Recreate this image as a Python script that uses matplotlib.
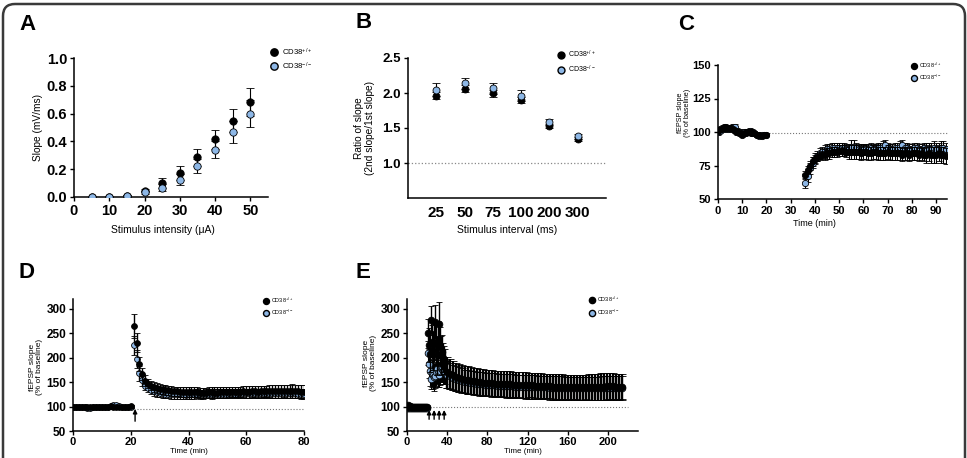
import matplotlib
matplotlib.use('Agg')
import matplotlib.pyplot as plt
from matplotlib.lines import Line2D
from matplotlib.patches import FancyBboxPatch
from matplotlib.transforms import IdentityTransform

plt.rcParams['font.family'] = ['Liberation Sans', 'DejaVu Sans']
plt.rcParams['font.weight'] = 'bold'
plt.rcParams['mathtext.default'] = 'regular'

BLUE = '#8db7e6'
W, H = 967, 458

# ---- A: input/output ----
a_int = [5, 10, 15, 20, 25, 30, 35, 40, 45, 50]
a_wt = [0.0, 0.0, 0.01, 0.045, 0.10, 0.175, 0.285, 0.415, 0.55, 0.685]
a_wt_err = [0.003, 0.004, 0.006, 0.012, 0.035, 0.05, 0.06, 0.07, 0.085, 0.10]
a_ko = [0.0, 0.0, 0.01, 0.035, 0.065, 0.125, 0.225, 0.34, 0.465, 0.60]
a_ko_err = [0.003, 0.004, 0.006, 0.01, 0.025, 0.04, 0.05, 0.06, 0.08, 0.095]

# ---- B: paired-pulse ratio ----
b_intervals = ['25', '50', '75', '100', '200', '300']
b_wt = [1.96, 2.06, 2.00, 1.90, 1.53, 1.34]
b_wt_err = [0.05, 0.05, 0.05, 0.04, 0.03, 0.03]
b_ko = [2.05, 2.14, 2.07, 1.96, 1.59, 1.38]
b_ko_err = [0.09, 0.08, 0.08, 0.08, 0.04, 0.03]

# ---- C: LTD ----
c_t_base = list(range(0, 21))
c_t_post = list(range(36, 95))
c_wt_base = [101, 102, 103, 104, 103, 103, 102, 101, 100, 99, 98, 99, 100, 100, 99,
             99, 98, 98, 97, 98, 98]
c_ko_base = [100, 101, 102, 103, 102, 103, 104, 104, 101, 100, 99, 100, 100, 101, 100,
             99, 98, 97, 98, 98, 98]
c_base_err = [2, 2, 2, 2, 2, 2, 2, 2, 2, 2, 2, 2, 2, 2, 2, 2, 2, 1, 1, 1, 1]
c_wt_post = [68, 72, 75, 78, 80, 81, 82, 83, 83, 84,
             84, 85, 85, 85, 86, 86, 86, 85, 85, 85,
             85, 85, 85, 84, 85, 85, 84, 84, 85, 85,
             84, 84, 84, 84, 85, 84, 84, 84, 84, 84,
             83, 84, 84, 83, 84, 84, 84, 83, 84, 83,
             83, 84, 83, 83, 83, 84, 83, 83, 82]
c_ko_post = [62, 67, 73, 77, 80, 82, 84, 85, 86, 87,
             87, 88, 88, 88, 88, 88, 88, 87, 87, 89,
             89, 88, 87, 87, 87, 87, 87, 88, 87, 87,
             88, 88, 89, 90, 88, 87, 87, 88, 88, 89,
             90, 88, 88, 87, 87, 88, 88, 87, 87, 88,
             87, 87, 87, 88, 87, 87, 88, 88, 87]
c_wt_post_err = [3, 3, 3, 3, 3, 3, 3, 3, 4, 4,
                 4, 4, 4, 4, 4, 4, 4, 4, 5, 5,
                 5, 5, 5, 5, 5, 5, 5, 5, 5, 5,
                 5, 5, 5, 5, 5, 5, 5, 5, 5, 5,
                 5, 5, 5, 5, 5, 5, 5, 5, 5, 5,
                 6, 6, 6, 6, 6, 6, 6, 6, 6]
c_ko_post_err = [4, 4, 4, 4, 4, 4, 4, 4, 4, 4,
                 4, 4, 4, 4, 4, 4, 4, 4, 4, 5,
                 5, 4, 4, 4, 4, 4, 4, 4, 4, 4,
                 4, 4, 4, 4, 4, 4, 4, 4, 4, 4,
                 4, 4, 4, 4, 4, 4, 4, 4, 4, 4,
                 5, 5, 5, 5, 5, 5, 5, 5, 5]

# ---- D: LTP (single train) ----
d_t_base = list(range(0, 21))
d_t_post = list(range(21, 81))
d_wt_base = [100, 100, 100, 99, 100, 100, 99, 100, 100, 100, 100, 100, 100, 101, 100,
             100, 100, 100, 100, 100, 101]
d_ko_base = [100, 99, 100, 99, 100, 98, 97, 99, 100, 100, 99, 100, 100, 101, 103,
             104, 101, 100, 100, 100, 100]
d_base_err = [3, 3, 3, 3, 3, 3, 3, 3, 3, 3, 3, 3, 3, 3, 3, 3, 3, 3, 3, 3, 3]
d_wt_post = [265, 231, 187, 166, 153, 147, 143, 140, 138, 136,
             135, 134, 133, 132, 131, 131, 130, 130, 130, 129,
             129, 129, 129, 128, 128, 128, 129, 129, 128, 128,
             129, 129, 129, 130, 130, 130, 130, 130, 131, 130,
             130, 131, 131, 130, 131, 131, 131, 132, 131, 131,
             131, 131, 132, 131, 131, 132, 131, 131, 130, 130]
d_ko_post = [225, 197, 168, 154, 143, 138, 134, 131, 129, 128,
             127, 126, 126, 125, 125, 125, 125, 125, 124, 125,
             125, 125, 126, 125, 125, 126, 126, 125, 126, 126,
             126, 126, 126, 127, 127, 126, 127, 127, 127, 127,
             127, 127, 127, 127, 127, 127, 127, 127, 127, 127,
             127, 127, 127, 127, 127, 127, 127, 126, 126, 126]
d_wt_post_err = [24, 20, 14, 12, 11, 10, 10, 10, 10, 10,
                 10, 10, 10, 10, 10, 10, 10, 10, 10, 10,
                 10, 10, 10, 10, 10, 10, 11, 11, 11, 11,
                 11, 11, 11, 11, 11, 11, 11, 11, 12, 12,
                 12, 12, 12, 12, 12, 12, 12, 12, 13, 13,
                 13, 13, 13, 13, 13, 14, 14, 14, 14, 14]
d_ko_post_err = [20, 18, 15, 12, 10, 9, 9, 9, 9, 9,
                 9, 9, 9, 9, 9, 9, 9, 9, 9, 9,
                 9, 9, 9, 9, 9, 9, 9, 9, 9, 9,
                 9, 9, 9, 9, 9, 9, 9, 9, 9, 9,
                 9, 9, 9, 9, 9, 9, 9, 9, 9, 9,
                 9, 9, 9, 9, 9, 9, 9, 9, 9, 9]
d_train = [21.5]

# ---- E: LTP (four trains) ----
e_t_base = list(range(0, 21))
e_t_burst = list(range(21, 39))
e_t_post = list(range(40, 215, 3))
e_wt_base = [100, 103, 102, 101, 100, 100, 100, 100, 100, 100, 100, 100, 100, 100, 100,
             100, 100, 100, 100, 99, 100]
e_ko_base = [97, 98, 98, 97, 97, 98, 98, 98, 98, 98, 98, 98, 98, 98, 98,
             98, 98, 98, 98, 98, 98]
e_base_err = [5, 5, 4, 4, 4, 4, 4, 4, 4, 4, 4, 4, 4, 4, 4, 4, 4, 4, 4, 4, 4]
e_wt_burst = [250, 226, 208, 278, 232, 215, 230, 273, 228, 205, 232, 268, 222, 205,
              212, 200, 195, 192]
e_wt_burst_err = [30, 35, 38, 28, 35, 40, 38, 35, 38, 40, 42, 45, 40, 40, 35, 30, 28, 25]
e_ko_burst = [210, 188, 172, 157, 168, 165, 160, 162, 170, 176, 168, 165, 172, 178,
              176, 172, 170, 168]
e_ko_burst_err = [25, 30, 30, 22, 28, 30, 28, 25, 28, 30, 28, 26, 28, 28, 25, 25, 24, 22]
e_wt_post = [170, 167, 164, 161, 159, 157, 155, 154, 153, 152,
             151, 150, 149, 149, 148, 148, 147, 147, 147, 146,
             146, 146, 145, 145, 145, 144, 144, 144, 144, 143,
             143, 143, 142, 142, 142, 141, 141, 141, 141, 140,
             140, 140, 140, 140, 139, 139, 140, 140, 140, 140,
             140, 141, 141, 142, 142, 142, 141, 141, 141]
e_wt_post_err = [32, 31, 30, 29, 29, 28, 28, 28, 27, 27,
                 27, 27, 27, 26, 26, 26, 26, 26, 26, 26,
                 26, 26, 26, 26, 26, 26, 26, 25, 25, 25,
                 25, 25, 25, 25, 25, 25, 25, 25, 25, 25,
                 25, 25, 25, 25, 25, 25, 25, 26, 26, 26,
                 27, 27, 27, 27, 26, 26, 26, 25, 25]
e_ko_post = [165, 162, 159, 157, 155, 153, 151, 150, 149, 148,
             147, 146, 146, 145, 145, 144, 144, 143, 143, 143,
             142, 142, 142, 141, 141, 141, 140, 140, 140, 140,
             139, 139, 139, 139, 138, 138, 138, 138, 138, 137,
             137, 137, 137, 137, 137, 137, 137, 137, 137, 137,
             137, 138, 138, 138, 138, 138, 138, 138, 138]
e_ko_post_err = [28, 27, 26, 26, 25, 25, 24, 24, 24, 24,
                 24, 24, 24, 24, 24, 24, 24, 24, 24, 24,
                 24, 24, 24, 24, 24, 24, 24, 24, 24, 24,
                 24, 24, 24, 24, 24, 24, 24, 24, 24, 24,
                 24, 24, 24, 24, 24, 24, 24, 24, 24, 24,
                 24, 24, 24, 24, 24, 24, 24, 24, 24]
e_trains = [22, 27, 32, 37]

labels = [r'CD38$^{+/+}$', r'CD38$^{-/-}$']


def box(l, r, t, b):
    # pixel edges -> figure fraction rect
    return [l / W, 1 - b / H, (r - l) / W, (b - t) / H]


def style(ax, xs, ys, xpad=2):
    for s in ['top', 'right']:
        ax.spines[s].set_visible(False)
    for s in ['left', 'bottom']:
        ax.spines[s].set_linewidth(1.1)
    ax.tick_params(axis='x', labelsize=xs, width=1.0, length=3, pad=xpad)
    ax.tick_params(axis='y', labelsize=ys, width=1.0, length=3, pad=2)


def series(ax, x, y, e, ko, ms, z, cap=2, elw=0.8):
    if ko:
        kw = dict(mfc=BLUE, mec='black', mew=0.6)
    else:
        kw = dict(mfc='black', mec='black', mew=0.6)
    ax.errorbar(x, y, yerr=e, fmt='o', ms=ms, color='black', ecolor='black',
                elinewidth=elw, capsize=cap, capthick=elw, zorder=z, **kw)


def legend(fig, x, y, fs, ms, spacing):
    h = [Line2D([0], [0], marker='o', ls='none', mfc='black', mec='black', ms=ms),
         Line2D([0], [0], marker='o', ls='none', mfc=BLUE, mec='black', ms=ms)]
    fig.legend(h, labels, loc='center left', bbox_to_anchor=(x / W, 1 - y / H),
               frameon=False, prop={'weight': 'normal', 'size': fs},
               handlelength=1.0, handletextpad=0.5, borderpad=0, borderaxespad=0,
               labelspacing=spacing)


fig = plt.figure(figsize=(W / 100, H / 100), dpi=100)

# outer rounded frame
fig.add_artist(FancyBboxPatch((3, -30), 962, H + 26, boxstyle='round,pad=0,rounding_size=12',
                              transform=IdentityTransform(), fc='none', ec='#3a3a3a', lw=1.8))

# A
ax = fig.add_axes(box(74, 268, 58, 197))
series(ax, a_int, a_wt, a_wt_err, False, 5.3, 3, cap=3)
series(ax, a_int, a_ko, a_ko_err, True, 5.3, 4, cap=3)
ax.set_xlim(0, 55)
ax.set_ylim(0, 1.0)
ax.set_xticks([0, 10, 20, 30, 40, 50])
ax.set_yticks([0.0, 0.2, 0.4, 0.6, 0.8, 1.0])
ax.set_yticklabels(['0.0', '0.2', '0.4', '0.6', '0.8', '1.0'])
style(ax, 10.5, 10.5)
ax.set_ylabel('Slope (mV/ms)', fontsize=7.3)
ax.yaxis.set_label_coords(-0.16, 0.5)
ax.set_xlabel('Stimulus intensity (μA)', fontsize=7.5)
ax.xaxis.set_label_coords(0.46, -0.20)
legend(fig, 270, 59, 5.6, 5.3, 0.35)

# B
ax = fig.add_axes(box(408, 606, 58, 198))
bx = list(range(1, len(b_intervals) + 1))
series(ax, bx, b_wt, b_wt_err, False, 5.0, 3, cap=3)
series(ax, bx, b_ko, b_ko_err, True, 5.0, 4, cap=3)
ax.axhline(1.0, color='#888888', ls=':', lw=0.9, zorder=1)
ax.set_xlim(0, 7)
ax.set_ylim(0.5, 2.5)
ax.set_xticks(bx)
ax.set_xticklabels(b_intervals)
ax.set_yticks([1.0, 1.5, 2.0, 2.5])
style(ax, 11, 9.5)
ax.tick_params(axis='x', length=0, pad=6)
ax.set_ylabel('Ratio of slope\n(2nd slope/1st slope)', fontsize=7.3, linespacing=1.1)
ax.yaxis.set_label_coords(-0.167, 0.5)
ax.set_xlabel('Stimulus interval (ms)', fontsize=7.5)
ax.xaxis.set_label_coords(0.5, -0.19)
legend(fig, 558, 62, 5.0, 5.0, 0.5)

# C
ax = fig.add_axes(box(718, 947, 65, 199))
series(ax, c_t_base, c_ko_base, c_base_err, True, 4.5, 3)
series(ax, c_t_post, c_ko_post, c_ko_post_err, True, 4.5, 3)
series(ax, c_t_base, c_wt_base, c_base_err, False, 4.5, 4)
series(ax, c_t_post, c_wt_post, c_wt_post_err, False, 4.5, 4)
ax.hlines(99, 20, 95, color='#777777', ls=':', lw=0.8, zorder=1, clip_on=False)
ax.set_xlim(0, 94.5)
ax.set_ylim(50, 150)
ax.set_xticks(range(0, 91, 10))
ax.set_yticks([50, 75, 100, 125, 150])
style(ax, 8, 8)
ax.set_ylabel('fEPSP slope\n(% of baseline)', fontsize=5.2, linespacing=1.05)
ax.yaxis.set_label_coords(-0.118, 0.64)
ax.set_xlabel('Time (min)', fontsize=6.5)
ax.xaxis.set_label_coords(0.42, -0.15)
legend(fig, 911, 71.5, 4.0, 4.3, 0.6)

# D
ax = fig.add_axes(box(73, 304, 299, 431))
series(ax, d_t_base, d_ko_base, d_base_err, True, 4.2, 3)
series(ax, d_t_post, d_ko_post, d_ko_post_err, True, 4.2, 3, elw=1.0)
series(ax, d_t_base, d_wt_base, d_base_err, False, 4.2, 4)
series(ax, d_t_post, d_wt_post, d_wt_post_err, False, 4.2, 4, elw=1.0)
ax.hlines(96, 21, 80, color='#777777', ls=':', lw=0.8, zorder=1)
for t in d_train:
    ax.annotate('', xy=(t, 95), xytext=(t, 70),
                arrowprops=dict(arrowstyle='-|>', color='black', lw=1.0,
                                mutation_scale=6, shrinkA=0, shrinkB=0))
ax.set_xlim(0, 80)
ax.set_ylim(50, 320)
ax.set_xticks([0, 20, 40, 60, 80])
ax.set_yticks([50, 100, 150, 200, 250, 300])
style(ax, 8, 8.5, xpad=1)
ax.set_ylabel('fEPSP slope\n(% of baseline)', fontsize=6, linespacing=1.05)
ax.yaxis.set_label_coords(-0.13, 0.485)
ax.set_xlabel('Time (min)', fontsize=5.8)
ax.xaxis.set_label_coords(0.5, -0.128)
legend(fig, 263, 306.5, 4.0, 4.3, 0.55)

# E
ax = fig.add_axes(box(407, 638, 299, 431))
series(ax, e_t_base, e_ko_base, e_base_err, True, 4.8, 3)
series(ax, e_t_burst, e_ko_burst, e_ko_burst_err, True, 4.8, 3)
series(ax, e_t_post, e_ko_post, e_ko_post_err, True, 4.8, 3, cap=3, elw=1.6)
series(ax, e_t_base, e_wt_base, e_base_err, False, 4.8, 4)
series(ax, e_t_burst, e_wt_burst, e_wt_burst_err, False, 4.8, 4, elw=1.0)
series(ax, e_t_post, e_wt_post, e_wt_post_err, False, 4.8, 4, cap=3, elw=1.6)
ax.hlines(100, 20, 220, color='#777777', ls=':', lw=0.8, zorder=1)
for t in e_trains:
    ax.annotate('', xy=(t, 93), xytext=(t, 74),
                arrowprops=dict(arrowstyle='-|>', color='black', lw=1.0,
                                mutation_scale=6, shrinkA=0, shrinkB=0))
ax.set_xlim(0, 230)
ax.set_ylim(50, 320)
ax.set_xticks([0, 40, 80, 120, 160, 200])
ax.set_yticks([50, 100, 150, 200, 250, 300])
style(ax, 8, 8.5, xpad=1)
ax.set_ylabel('fEPSP slope\n(% of baseline)', fontsize=6, linespacing=1.05)
ax.yaxis.set_label_coords(-0.13, 0.515)
ax.set_xlabel('Time (min)', fontsize=5.8)
ax.xaxis.set_label_coords(0.5, -0.128)
legend(fig, 589, 306, 4.0, 4.5, 0.55)

# panel letters
for letter, px, py in [('A', 27, 24), ('B', 364, 23), ('C', 686, 24),
                       ('D', 27, 273), ('E', 363, 272)]:
    fig.text(px / W, 1 - py / H, letter, fontsize=16, fontweight='bold',
             ha='center', va='center')

fig.savefig('out.png', dpi=100)
